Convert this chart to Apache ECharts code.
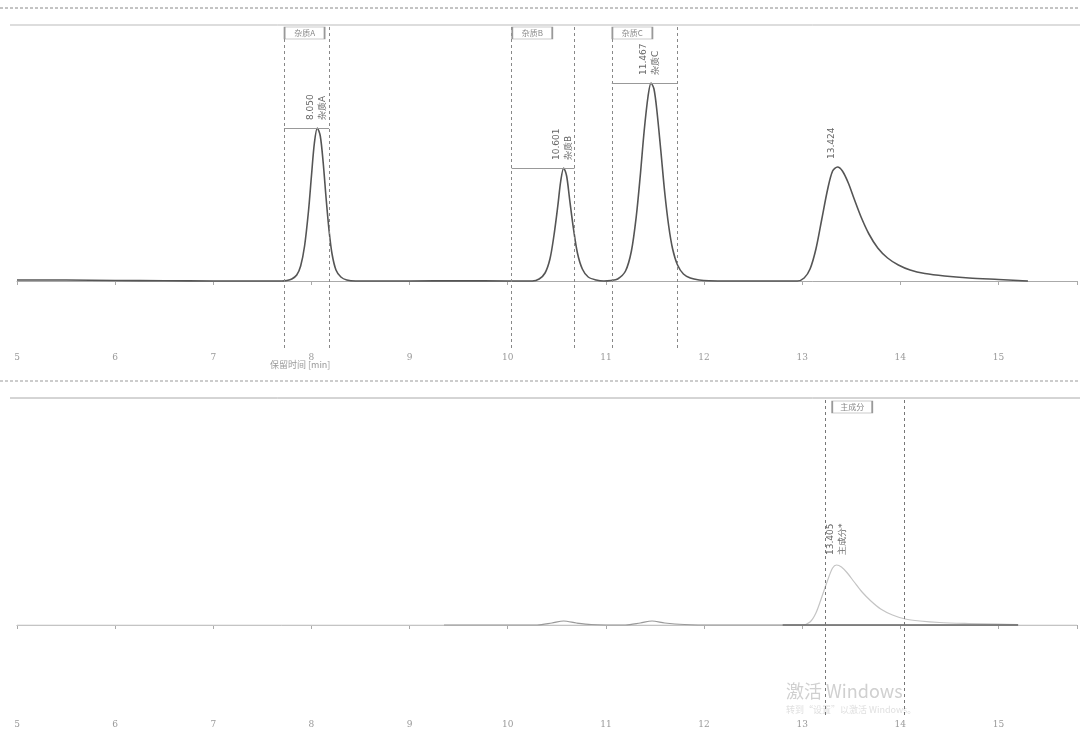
<!DOCTYPE html>
<html><head><meta charset="utf-8">
<script src="https://cdn.jsdelivr.net/npm/echarts@6/dist/echarts.min.js"></script>
<style>html,body{margin:0;padding:0;background:#fff;}#c{width:1080px;height:732px;}</style>
</head><body><div id="c"></div>
<script>
// ---- data (time in min, signal in arbitrary units) ----
const xTicks = [5,6,7,8,9,10,11,12,13,14,15];
const topTrace = [
 [5.0,1],[5.5,1],[6.0,0.5],[6.5,0.3],[7.0,0],[7.5,0],[7.7,0],[7.75,0.5],[7.80,2],[7.85,6],[7.89,15],[7.93,35],
 [7.97,70],[8.00,105],[8.03,138],[8.06,153],[8.09,145],[8.12,118],[8.15,82],[8.18,50],[8.21,27],[8.25,11],
 [8.30,4],[8.36,1],[8.45,0],[9.0,0],[9.5,0.3],[10.0,0],[10.25,0],[10.32,2],[10.38,8],[10.43,22],[10.47,45],
 [10.51,75],[10.54,100],[10.57,113],[10.60,105],[10.63,82],[10.67,52],[10.71,28],[10.76,12],[10.82,4],
 [10.90,1],[10.98,0],[11.05,0.5],[11.12,2],[11.20,10],[11.26,30],[11.31,65],[11.35,105],[11.39,150],
 [11.43,185],[11.46,198],[11.49,192],[11.52,170],[11.56,130],[11.60,88],[11.64,55],[11.68,32],[11.73,16],
 [11.79,7],[11.86,3],[11.95,1],[12.05,0.3],[12.5,0],[12.95,0],[13.02,3],[13.08,12],[13.14,32],[13.20,62],
 [13.26,92],[13.31,110],[13.36,114],[13.41,110],[13.47,98],[13.53,82],[13.60,64],[13.68,47],[13.77,33],
 [13.87,23],[13.98,16],[14.10,11],[14.25,7.5],[14.45,5],[14.70,3],[15.00,1.5],[15.20,0.5],[15.3,0]
];
const bottomTrace = [
 [9.35,0],[10.0,0],[10.3,0],[10.45,2],[10.57,4],[10.70,2],[10.85,0.5],[11.2,0],[11.35,2],[11.47,4],
 [11.6,2],[11.8,0.5],[12.1,0],[12.5,0],[12.8,0]
];
const bottomPeak = [
 [12.8,0],[13.00,0],[13.08,3],[13.14,12],[13.20,28],[13.26,45],[13.31,57],[13.35,60],[13.40,58],[13.46,52],
 [13.53,43],[13.61,33],[13.70,24],[13.80,16],[13.92,10],[14.05,6],[14.20,4],[14.40,2.5],[14.70,1.5],
 [15.0,0.8],[15.2,0.3]
];
const bottomBaseline = [[12.8,0],[15.2,0]];
// integration windows [start, end, level]
const topWindows = [[7.72,8.18,153],[10.04,10.68,113],[11.06,11.73,198]];
const bottomWindows = [[13.24,14.04]];
const windowNames = ['杂质A','杂质B','杂质C'];
const bottomWindowNames = ['主成分'];
// peak annotations
const topPeakTimes = ['8.050','10.601','11.467','13.424'];
const topPeakPos = [[8.06,153],[10.57,113],[11.46,198],[13.36,114]];
const topPeakNames = ['杂质A','杂质B','杂质C',''];
const bottomPeakTime = '13.405';
const bottomPeakPos = [13.35,60];
const bottomPeakName = '主成分*';

const gray = '#555';

// rotated (bottom-to-top) label; offset is in the rotated frame: [up, right]
function rotLabel(coord, text, across, up){
  return {coord: coord, value: text, symbol:'circle', symbolSize:1,
    itemStyle:{color:'rgba(0,0,0,0)'},
    label:{show:true, formatter:text, rotate:90, position:'inside', align:'left', verticalAlign:'middle',
      offset:[up, across], color:'#666', fontSize:9, fontFamily:'DejaVu Sans'}};
}
function boxMark(coord, text){
  return {coord: coord, symbol:'rect', symbolSize:[40,12],
    itemStyle:{color:'#fff', borderColor:'#999', borderWidth:1},
    label:{show:true, formatter:text, position:'inside', color:'#888', fontSize:8, fontFamily:'Noto Sans CJK SC'}};
}

const topMarkPoints = [];
topPeakPos.forEach((p,i)=>{
  topMarkPoints.push(rotLabel(p, topPeakTimes[i], topPeakNames[i] ? -7 : -6, 8));
  if (topPeakNames[i]) topMarkPoints.push(rotLabel(p, topPeakNames[i], 5, 8));
});
topWindows.forEach((w,i)=>{ topMarkPoints.push(boxMark([w[0]+0.21, 248], windowNames[i])); });

const topMarkLines = [];
topWindows.forEach(w=>{
  topMarkLines.push({xAxis:w[0]}); topMarkLines.push({xAxis:w[1]});
  topMarkLines.push([{coord:[w[0],w[2]], lineStyle:{type:'solid', color:'#999'}},{coord:[w[1],w[2]]}]);
});
const bottomMarkLines = [];
bottomWindows.forEach(w=>{ bottomMarkLines.push({xAxis:w[0]}); bottomMarkLines.push({xAxis:w[1]}); });
const bottomMarkPoints = [
  rotLabel(bottomPeakPos, bottomPeakTime, -6, 10),
  rotLabel(bottomPeakPos, bottomPeakName, 6, 10),
  boxMark([bottomWindows[0][0]+0.27, 218], bottomWindowNames[0])
];

function xAx(gi){
  return {gridIndex:gi, type:'value', min:5, max:15.8, interval:1,
    axisLine:{lineStyle:{color:'#aaa', width:1}},
    axisTick:{show:true, length:4, lineStyle:{color:'#aaa'}},
    axisLabel:{color:'#999', fontSize:9, fontFamily:'DejaVu Serif', margin:5,
      formatter:v=> xTicks.includes(v) ? String(v) : ''},
    splitLine:{show:false}};
}

const chart = echarts.init(document.getElementById('c'));
chart.setOption({
  animation:false,
  backgroundColor:'#fff',
  grid:[{left:17,right:0,top:25,height:323},{left:17,right:0,top:398,height:317}],
  xAxis:[xAx(0), xAx(1)],
  yAxis:[{gridIndex:0,type:'value',min:-67,max:256,show:false,splitLine:{show:false}},
         {gridIndex:1,type:'value',min:-90,max:227,show:false,splitLine:{show:false}}],
  series:[
    {type:'line', xAxisIndex:0, yAxisIndex:0, data:topTrace, smooth:0.3, symbol:'none',
     lineStyle:{color:gray, width:1.6},
     markLine:{symbol:'none', silent:true, label:{show:false},
       lineStyle:{type:[3,3], color:'#888', width:1}, data:topMarkLines},
     markPoint:{data:topMarkPoints}},
    {type:'line', xAxisIndex:1, yAxisIndex:1, data:bottomTrace, smooth:0.3, symbol:'none',
     lineStyle:{color:'#999', width:1.2},
     markLine:{symbol:'none', silent:true, label:{show:false},
       lineStyle:{type:[3,3], color:'#777', width:1}, data:bottomMarkLines}},
    {type:'line', xAxisIndex:1, yAxisIndex:1, data:bottomPeak, smooth:0.3, symbol:'none',
     lineStyle:{color:'#c4c4c4', width:1.2},
     markPoint:{data:bottomMarkPoints}},
    {type:'line', xAxisIndex:1, yAxisIndex:1, data:bottomBaseline, symbol:'none',
     lineStyle:{color:'#666', width:1.4}},
    {type:'line', xAxisIndex:1, yAxisIndex:1, data:[[5,0],[15.8,0]], symbol:'none', z:1,
     lineStyle:{color:'#ddd', width:1}}
  ],
  graphic:[
    {type:'line', shape:{x1:0,y1:8,x2:1080,y2:8}, style:{stroke:'#888', lineWidth:1, lineDash:[3,2]}},
    {type:'line', shape:{x1:10,y1:25,x2:1080,y2:25}, style:{stroke:'#bbb', lineWidth:1}},
    {type:'line', shape:{x1:0,y1:381,x2:1080,y2:381}, style:{stroke:'#999', lineWidth:1, lineDash:[3,2]}},
    {type:'line', shape:{x1:10,y1:398,x2:1080,y2:398}, style:{stroke:'#aaa', lineWidth:1}},
    {type:'text', left:270, top:360, style:{text:'保留时间 [min]', fill:'#999', fontSize:9, fontFamily:'Noto Sans CJK SC'}},
    {type:'text', left:786, top:682, style:{text:'激活 Windows', fill:'#d0d0d0', fontSize:18, fontFamily:'Noto Sans CJK SC'}},
    {type:'text', left:786, top:705, style:{text:'转到“设置”以激活 Windows。', fill:'#e0e0e0', fontSize:9, fontFamily:'Noto Sans CJK SC'}}
  ]
});
</script></body></html>
